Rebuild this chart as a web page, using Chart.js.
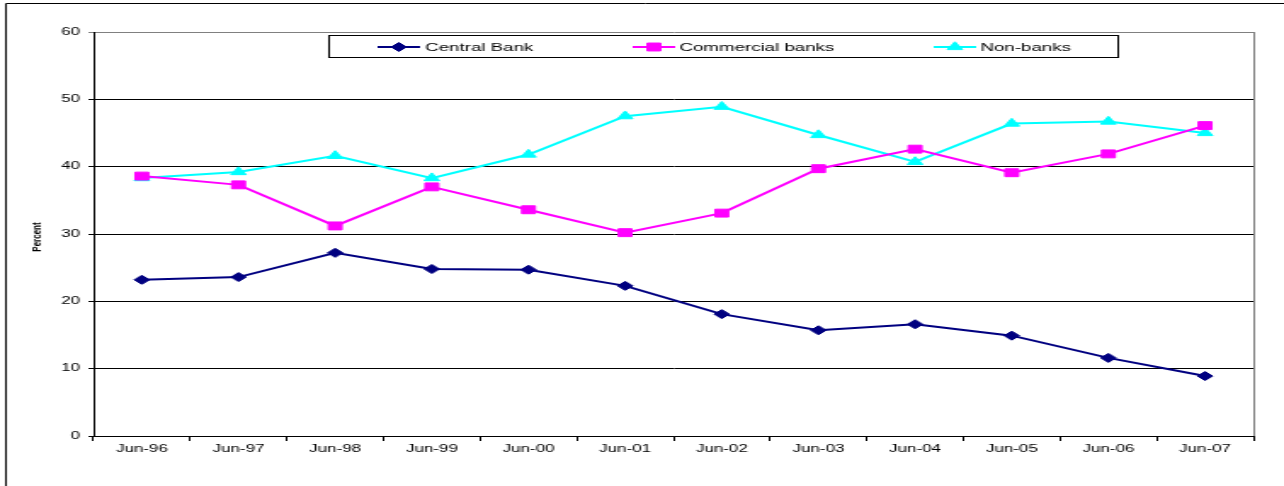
<!DOCTYPE html>
<html>
<head>
<meta charset="utf-8">
<script src="https://cdn.jsdelivr.net/npm/chart.js@4/dist/chart.umd.min.js"></script>
<style>
  html, body { margin: 0; padding: 0; background: #fff; overflow: hidden; }
  #c { display: block; width: 1284px; height: 486px; }
</style>
</head>
<body>
<canvas id="c" width="755" height="486" style="width:1284px;height:486px"></canvas>
<script>
const categories = ['Jun-96','Jun-97','Jun-98','Jun-99','Jun-00','Jun-01','Jun-02','Jun-03','Jun-04','Jun-05','Jun-06','Jun-07'];
const centralBank = [23.2, 23.6, 27.2, 24.8, 24.7, 22.3, 18.1, 15.7, 16.6, 14.9, 11.6, 8.9];
const commercialBanks = [38.6, 37.3, 31.2, 37.0, 33.6, 30.2, 33.1, 39.7, 42.6, 39.1, 41.9, 46.1];
const nonBanks = [38.3, 39.2, 41.6, 38.3, 41.8, 47.5, 48.9, 44.7, 40.7, 46.4, 46.7, 45.0];
const yTicks = [0, 10, 20, 30, 40, 50, 60];
const seriesNames = ['Central Bank', 'Commercial banks', 'Non-banks'];
const yTitle = 'Percent';

const FONT = "'Liberation Sans', Arial, sans-serif";

const framePlugin = {
  id: 'frame',
  beforeDraw(chart) {
    const ctx = chart.ctx;
    ctx.save();
    ctx.fillStyle = '#fff';
    ctx.fillRect(0, 0, chart.width, chart.height);
    ctx.strokeStyle = '#000';
    ctx.lineWidth = 1;
    ctx.beginPath();
    ctx.moveTo(3.5, chart.height + 5);
    ctx.lineTo(3.5, 3.5);
    ctx.lineTo(chart.width + 5, 3.5);
    ctx.stroke();
    ctx.restore();
  },
  afterDraw(chart) {
    const ctx = chart.ctx;
    const a = chart.chartArea;
    ctx.save();
    // right border of plot area
    ctx.strokeStyle = '#808080';
    ctx.lineWidth = 1;
    ctx.beginPath();
    ctx.moveTo(a.right + 0.5, a.top);
    ctx.lineTo(a.right + 0.5, a.bottom);
    ctx.stroke();
    // y title
    ctx.translate(22, (a.top + a.bottom) / 2 + 3);
    ctx.rotate(-Math.PI / 2);
    ctx.fillStyle = '#000';
    ctx.font = 'bold 8px ' + FONT;
    ctx.textAlign = 'center';
    ctx.textBaseline = 'middle';
    ctx.fillText(yTitle, 0, 0);
    ctx.restore();

    // legend
    ctx.save();
    const bx = 193.5, by = 35.5, bw = 464, bh = 22;
    ctx.fillStyle = '#fff';
    ctx.fillRect(bx, by, bw, bh);
    ctx.strokeStyle = '#000';
    ctx.lineWidth = 1;
    ctx.strokeRect(bx, by, bw, bh);
    const items = [
      { x0: 222, x1: 247, tx: 250 },
      { x0: 372, x1: 397, tx: 399.5 },
      { x0: 549, x1: 574, tx: 576.5 }
    ];
    const cy = 47;
    chart.data.datasets.forEach((ds, i) => {
      const it = items[i];
      ctx.strokeStyle = ds.borderColor;
      ctx.lineWidth = ds.borderWidth;
      ctx.beginPath();
      ctx.moveTo(it.x0, cy);
      ctx.lineTo(it.x1, cy);
      ctx.stroke();
    });
    chart.data.datasets.forEach((ds, i) => {
      const it = items[i];
      ctx.fillStyle = ds.pointBackgroundColor;
      ctx.strokeStyle = ds.pointBorderColor;
      ctx.lineWidth = 1;
      Chart.helpers.drawPoint(ctx, { pointStyle: ds.pointStyle, rotation: 0, radius: ds.pointRadius, borderWidth: 1 }, (it.x0 + it.x1) / 2, cy);
      ctx.fillStyle = '#000';
      ctx.font = '11px ' + FONT;
      ctx.textAlign = 'left';
      ctx.textBaseline = 'middle';
      ctx.fillText(seriesNames[i], it.tx, cy + 0.5);
    });
    ctx.restore();
  }
};

function mk(label, data, color, style, r) {
  return {
    label, data,
    borderColor: color,
    backgroundColor: color,
    pointBackgroundColor: color,
    pointBorderColor: color,
    borderWidth: 2,
    pointStyle: style,
    pointRadius: r,
    pointHoverRadius: r,
    pointBorderWidth: 1,
    tension: 0,
    fill: false
  };
}

new Chart(document.getElementById('c'), {
  type: 'line',
  data: {
    labels: categories,
    datasets: [
      mk(seriesNames[0], centralBank, '#000080', 'rectRot', 4.5),
      mk(seriesNames[1], commercialBanks, '#FF00FF', 'rect', 5.6),
      mk(seriesNames[2], nonBanks, '#00FFFF', 'triangle', 5.2)
    ]
  },
  options: {
    responsive: false,
    animation: false,
    devicePixelRatio: 1,
    layout: { padding: { left: 0, right: 18, top: 32, bottom: 0 } },
    plugins: { legend: { display: false }, tooltip: { enabled: false } },
    scales: {
      x: {
        offset: true,
        grid: { display: true, drawOnChartArea: false, drawTicks: true, tickLength: 5, offset: true, color: '#000', lineWidth: 1 },
        border: { display: true, color: '#000', width: 1 },
        ticks: { color: '#000', font: { family: FONT, size: 10 }, padding: 2, maxRotation: 0, autoSkip: false },
        afterFit(s) { s.height = 50; }
      },
      y: {
        min: 0, max: 60,
        afterBuildTicks(s) { s.ticks = yTicks.map(v => ({ value: v })); },
        grid: {
          color: (c) => (c.tick && c.tick.value === 60 ? '#808080' : '#000'),
          lineWidth: 1,
          tickLength: 3,
          drawTicks: true
        },
        border: { display: true, color: '#000', width: 1 },
        ticks: { color: '#000', font: { family: FONT, size: 10 }, padding: 5 },
        afterFit(s) { s.width = 55; }
      }
    }
  },
  plugins: [framePlugin]
});
</script>
</body>
</html>
